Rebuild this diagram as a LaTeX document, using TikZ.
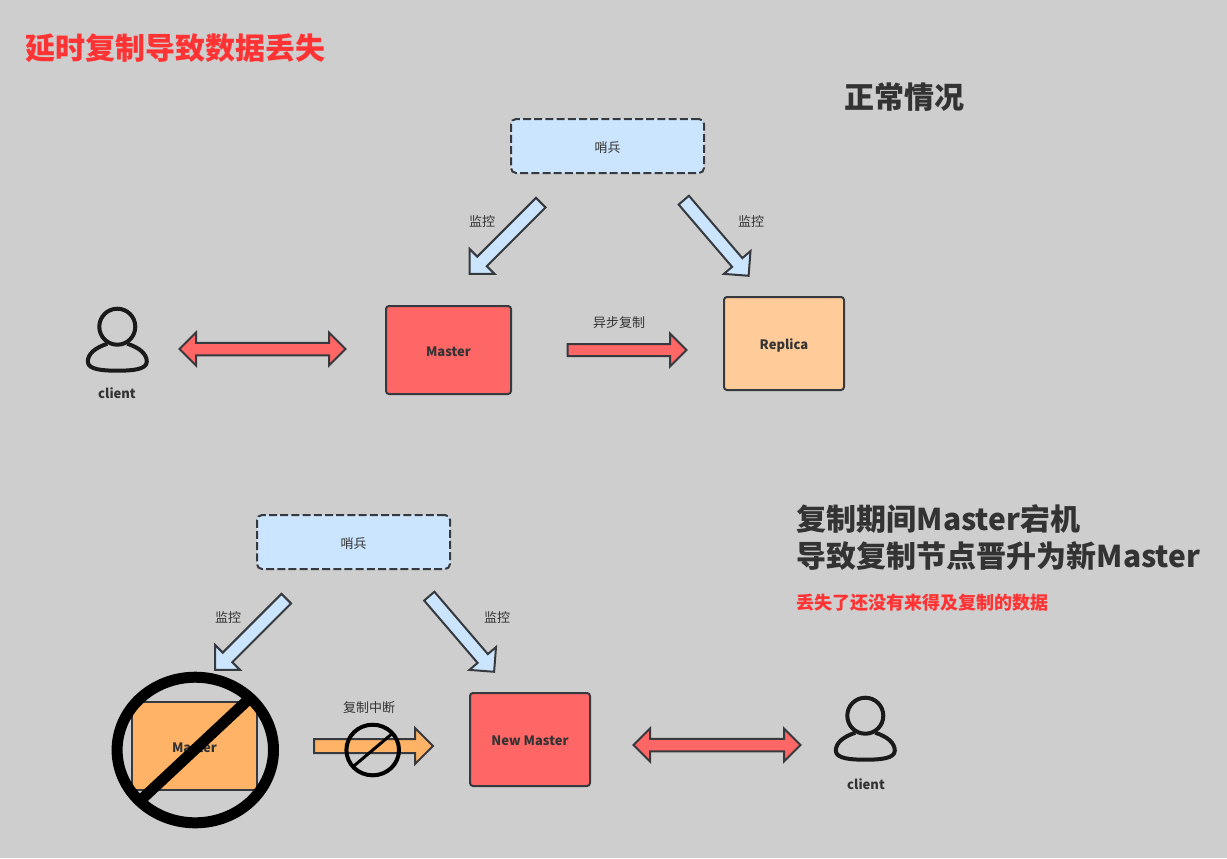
\documentclass[tikz,border=0pt]{standalone}
\usepackage{fontspec}
\setmainfont{Noto Sans CJK SC}
\usetikzlibrary{shapes.arrows}
\definecolor{bgc}{HTML}{CECECE}
\definecolor{stk}{HTML}{36393D}
\definecolor{blu}{HTML}{CCE5FF}
\definecolor{redf}{HTML}{FF6666}
\definecolor{org}{HTML}{FFB366}
\definecolor{pea}{HTML}{FFCC99}
\definecolor{txt}{HTML}{333333}
\definecolor{alert}{HTML}{FF3333}
\definecolor{ink}{HTML}{1A1A1A}
\def\px{0.75pt}
\newcommand{\pxfont}[1]{\fontsize{\dimexpr#1\dimexpr0.75pt\relax\relax}{\dimexpr#1\dimexpr0.95pt\relax\relax}\selectfont}
\tikzset{
  box/.style n args={2}{draw=stk,line width=2*\px,rounded corners=3*\px,inner sep=0pt,outer sep=0pt,
     minimum width=#1*\px,minimum height=#2*\px,text=txt,font=\pxfont{13}\bfseries,text height=9pt,text depth=0pt},
  sentinel/.style={draw=stk,fill=blu,line width=2*\px,rounded corners=5*\px,dash pattern=on 8*\px off 3.2*\px,
     inner sep=0pt,outer sep=0pt,minimum width=193*\px,minimum height=54*\px,text=txt,font=\pxfont{13},text height=9pt,text depth=0pt},
  arr/.style n args={3}{shape=single arrow,draw=stk,line width=2*\px,inner xsep=0pt,inner ysep=#3/2*\px,outer sep=0pt,
     minimum height=#1*\px,minimum width=#2*\px,single arrow head extend={(#2-#3)/2*\px},single arrow head indent=0pt},
  darr/.style n args={3}{shape=double arrow,draw=stk,line width=2*\px,inner xsep=0pt,inner ysep=#3/2*\px,outer sep=0pt,
     minimum height=#1*\px,minimum width=#2*\px,double arrow head extend={(#2-#3)/2*\px},double arrow head indent=0pt},
  lbl/.style={text=txt,font=\pxfont{13},inner sep=0pt},
  blbl/.style={text=txt,font=\pxfont{13}\bfseries,inner sep=0pt},
  head/.style={text=txt,font=\pxfont{30}\bfseries,inner sep=0pt,anchor=west},
  person/.pic={
    \draw[ink,line width=4*\px] (0,0) circle[radius=18];
    \draw[ink,line width=4*\px,line join=round]
      (-10,17) .. controls (-22,21) and (-29.5,27) .. (-29.5,35)
      .. controls (-29.5,43) and (-14,44) .. (0,44)
      .. controls (14,44) and (29.5,43) .. (29.5,35)
      .. controls (29.5,27) and (22,21) .. (10,17);
  }
}
\begin{document}
\begin{tikzpicture}[x=0.75pt,y=-0.75pt]
\fill[bgc] (0,0) rectangle (1227,858);
\useasboundingbox (0,0) rectangle (1227,858);

\node[text=alert,font=\pxfont{30}\bfseries,inner sep=0pt,anchor=west] (title) at (25,48) {延时复制导致数据丢失};
\node[head] (normal) at (844,97) {正常情况};

% top scenario
\node[sentinel] (s1) at (607.5,146) {哨兵};
\node[arr={100.6}{33}{11.5},fill=blu,rotate=225] (a1) at (507.6,235.8) {};
\node[arr={99.6}{33}{11.5},fill=blu,rotate=-49.4] (a2) at (714,235.4) {};
\node[lbl] (l1) at (482,221) {监控};
\node[lbl] (l2) at (751,221) {监控};
\pic (p1) at (117.3,326.7) {person};
\node[blbl] (c1) at (117,393) {client};
\node[darr={166}{31}{10.5},fill=redf] (d1) at (262.5,349) {};
\node[box={125}{88},fill=redf] (m1) at (448.5,350) {Master};
\node[arr={119}{31}{10},fill=redf] (a3) at (624,350) {};
\node[lbl] (l3) at (619,322.5) {异步复制};
\node[box={120}{93},fill=pea] (r1) at (784,343.5) {Replica};

% bottom scenario
\node[sentinel] (s2) at (353.5,542) {哨兵};
\node[arr={100.6}{33}{11.5},fill=blu,rotate=225] (a4) at (253.1,631.8) {};
\node[arr={99.6}{33}{11.5},fill=blu,rotate=-49.4] (a5) at (459.5,631.4) {};
\node[lbl] (l4) at (228,617) {监控};
\node[lbl] (l5) at (497,617) {监控};
\node[box={125}{88},fill=org,rounded corners=0pt] (m2) at (194.5,746) {Master};
\node[arr={119}{34}{12},fill=org] (a6) at (370,746) {};
\node[lbl] (l6) at (369,707.5) {复制中断};
\node[box={120}{93},fill=redf] (m3) at (530,739.5) {New Master};
\node[darr={167}{31}{10.5},fill=redf] (d2) at (717,745) {};
\pic (p2) at (865.3,715.7) {person};
\node[blbl] (c2) at (866,784) {client};

% prohibition signs
\draw[black,line width=11*\px] (195.3,750) ellipse[x radius=78.2,y radius=72.8];
\draw[black,line width=11*\px] (250,698) -- (143,798);
\draw[black,line width=4*\px] (372.7,750) ellipse[x radius=26.3,y radius=25.3];
\draw[black,line width=3*\px] (391.7,734) -- (353,766.7);

% captions
\node[head] (h1) at (796.5,519) {复制期间Master宕机};
\node[head] (h2) at (796.5,556) {导致复制节点晋升为新Master};
\node[text=alert,font=\pxfont{18}\bfseries,inner sep=0pt,anchor=west] (h3) at (796.5,602.5) {丢失了还没有来得及复制的数据};
\end{tikzpicture}
\end{document}
